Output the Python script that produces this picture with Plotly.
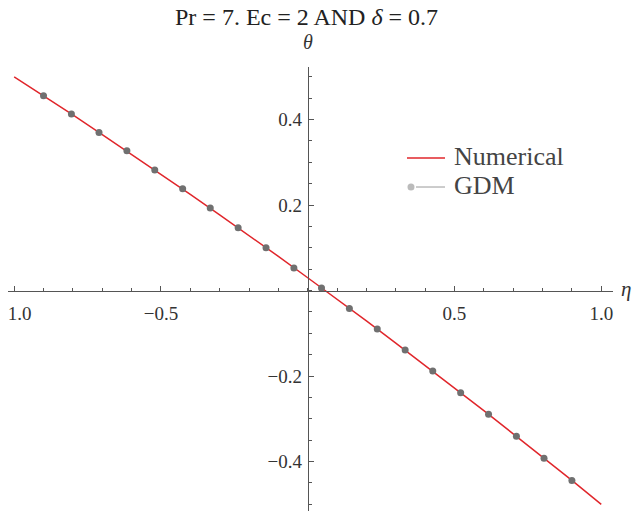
import plotly.graph_objects as go

# values
eta_num = [-1.0, -0.9, -0.8, -0.7, -0.6, -0.5, -0.4, -0.3, -0.2, -0.1, 0.0,
           0.1, 0.2, 0.3, 0.4, 0.5, 0.6, 0.7, 0.8, 0.9, 1.0]
theta_num = [0.500, 0.456, 0.411, 0.365, 0.319, 0.273, 0.225, 0.177, 0.129, 0.080, 0.030,
             -0.020, -0.071, -0.123, -0.175, -0.228, -0.281, -0.335, -0.389, -0.444, -0.500]

eta_gdm = [-0.900, -0.805, -0.711, -0.616, -0.521, -0.426, -0.332, -0.237, -0.142, -0.047,
           0.047, 0.142, 0.237, 0.332, 0.426, 0.521, 0.616, 0.711, 0.805, 0.900]
theta_gdm = [0.456, 0.413, 0.370, 0.327, 0.282, 0.238, 0.193, 0.147, 0.100, 0.053,
             0.006, -0.042, -0.090, -0.139, -0.188, -0.239, -0.289, -0.341, -0.392, -0.444]

x_ticks = [-1.0, -0.5, 0.5, 1.0]
x_ticktext = ['\u22121.0', '\u22120.5', '0.5', '1.0']
y_ticks = [-0.4, -0.2, 0.2, 0.4]
y_ticktext = ['\u22120.4', '\u22120.2', '0.2', '0.4']

serif = 'Times New Roman, Liberation Serif, DejaVu Serif, serif'
axis_col = '#555555'
red = '#e0262b'

fig = go.Figure()
fig.add_trace(go.Scatter(x=eta_num, y=theta_num, mode='lines', name='Numerical',
                         line=dict(color=red, width=1.5), showlegend=False))
fig.add_trace(go.Scatter(x=eta_gdm, y=theta_gdm, mode='markers', name='GDM',
                         marker=dict(color='#707070', size=7), showlegend=False))

x_rng = [-1.021, 1.040]
y_rng = [-0.5156, 0.523]
x_pos = (0 - y_rng[0]) / (y_rng[1] - y_rng[0])  # where theta = 0
y_pos = (0 - x_rng[0]) / (x_rng[1] - x_rng[0])  # where eta = 0

fig.update_layout(
    width=640, height=511,
    margin=dict(l=0, r=35, t=59, b=8, autoexpand=False),
    paper_bgcolor='white', plot_bgcolor='white',
    font=dict(family=serif, size=19, color='#333333'),
    xaxis=dict(range=x_rng, anchor='free', position=x_pos, automargin=False,
               ticklabeloverflow='allow', ticklabelstandoff=6,
               showgrid=False, zeroline=False,
               showline=True, linecolor=axis_col, linewidth=1,
               ticks='inside', ticklen=5, tickcolor=axis_col,
               tickvals=x_ticks, ticktext=x_ticktext,
               minor=dict(ticks='inside', dtick=0.1, tick0=0, ticklen=3, tickcolor=axis_col)),
    yaxis=dict(range=y_rng, anchor='free', position=y_pos, automargin=False,
               ticklabeloverflow='allow', ticklabelstandoff=2,
               showgrid=False, zeroline=False,
               showline=True, linecolor=axis_col, linewidth=1,
               ticks='inside', ticklen=5, tickcolor=axis_col,
               tickvals=y_ticks, ticktext=y_ticktext,
               minor=dict(ticks='inside', dtick=0.05, tick0=0, ticklen=3, tickcolor=axis_col)),
    annotations=[
        dict(xref='paper', yref='paper', x=0.494, y=1.1126, xanchor='center', yanchor='middle',
             text='Pr = 7. Ec = 2 AND <i>\u03b4</i> = 0.7', showarrow=False,
             font=dict(family=serif, size=24, color='#222222')),
        dict(xref='paper', yref='paper', x=y_pos, y=1.0563, xanchor='center', yanchor='middle',
             text='<i>\u03b8</i>', showarrow=False, font=dict(family=serif, size=20, color='#333333')),
        dict(xref='paper', yref='paper', x=1.0215, y=x_pos + 0.003, xanchor='center', yanchor='middle',
             text='<i>\u03b7</i>', showarrow=False, font=dict(family=serif, size=21, color='#333333')),
        # legend text
        dict(xref='paper', yref='paper', x=0.7339, y=0.7995, xanchor='left', yanchor='middle',
             text='Numerical', showarrow=False, font=dict(family=serif, size=26, color='#444444')),
        dict(xref='paper', yref='paper', x=0.7339, y=0.734, xanchor='left', yanchor='middle',
             text='GDM', showarrow=False, font=dict(family=serif, size=26, color='#444444')),
    ],
    shapes=[
        dict(type='line', xref='paper', yref='paper', x0=0.6595, x1=0.7223, y0=0.795, y1=0.795,
             line=dict(color=red, width=1.5)),
        dict(type='line', xref='paper', yref='paper', x0=0.6744, x1=0.7223, y0=0.7297, y1=0.7297,
             line=dict(color='#bbbbbb', width=1.5)),
        dict(type='circle', xref='paper', yref='paper', xsizemode='pixel', ysizemode='pixel',
             xanchor=0.6661, yanchor=0.7297, x0=-3.5, x1=3.5, y0=-3.5, y1=3.5,
             fillcolor='#bbbbbb', line=dict(color='#bbbbbb', width=0)),
    ],
)

fig.write_html("out.html")
